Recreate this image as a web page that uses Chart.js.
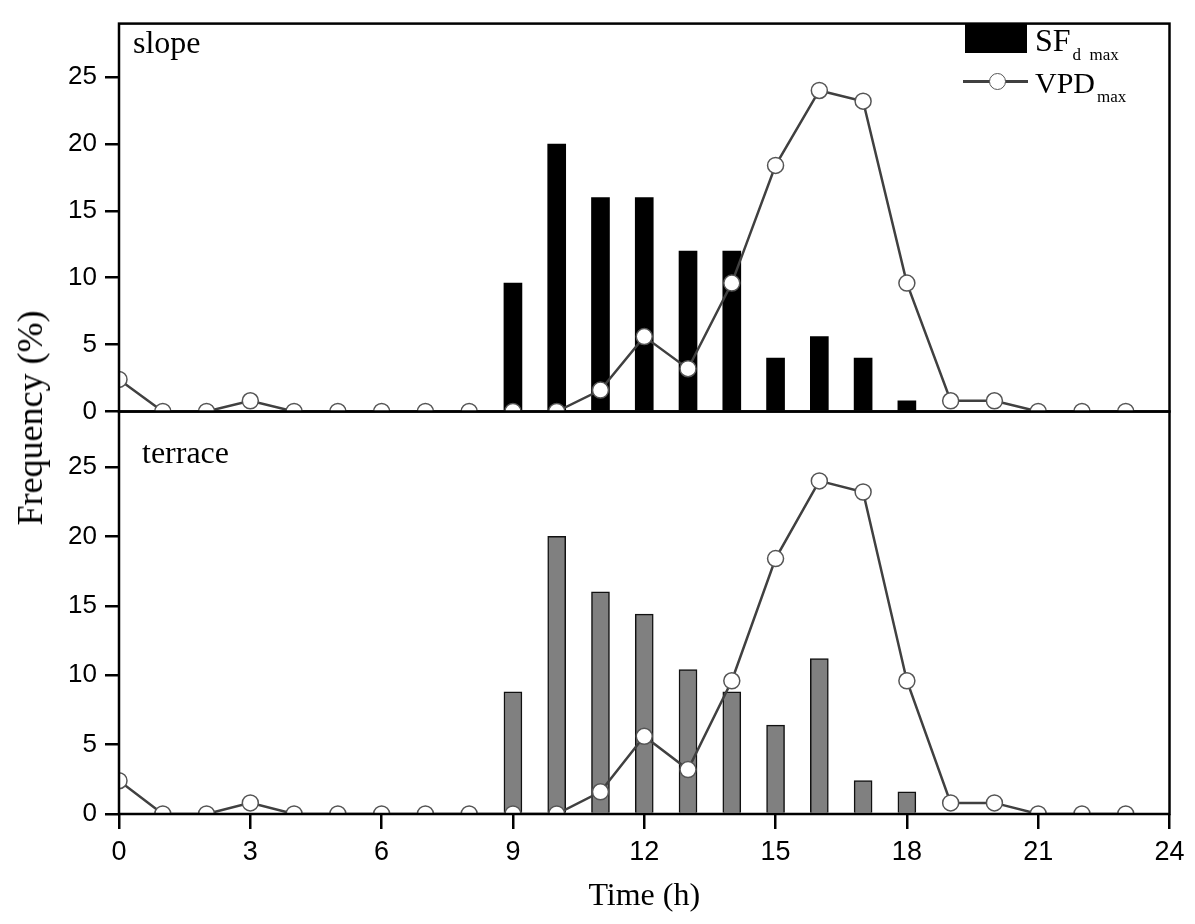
<!DOCTYPE html>
<html>
<head>
<meta charset="utf-8">
<script src="https://cdn.jsdelivr.net/npm/chart.js@4.4.1/dist/chart.umd.min.js"></script>
<style>
  html, body { margin: 0; padding: 0; background: #fff; }
  #wrap { position: relative; width: 1195px; height: 924px; overflow: hidden; }
  #wrap canvas { position: absolute; left: 0; top: 0; }
  .serif { position: absolute; font-family: 'Liberation Serif', 'Times New Roman', serif; color: #000; white-space: nowrap; line-height: 1; }
  #ytitle { left: 30px; top: 418px; font-size: 36px; transform: translate(-50%, -50%) rotate(-90deg); }
  #slope { left: 133px; top: 26px; font-size: 32px; }
  #terrace { left: 142px; top: 436px; font-size: 32px; }
  #legBox { position: absolute; left: 965px; top: 23px; width: 62px; height: 30px; background: #000; }
  #legLine { position: absolute; left: 963px; top: 80px; width: 65px; height: 2.5px; background: #404040; }
  #legDot { position: absolute; left: 989px; top: 73px; width: 15px; height: 15px; border-radius: 50%; background: #fff; border: 1.5px solid #555; }
  .sub { font-size: 17px; position: relative; top: 9px; margin-left: 2px; }
  #legSF { left: 1035px; top: 24px; font-size: 32px; }
  #legVPD { left: 1035px; top: 68px; font-size: 30px; }
</style>
</head>
<body>
<div id="wrap">
  <canvas id="bottomChart" width="1195" height="924"></canvas>
  <canvas id="topChart" width="1195" height="924"></canvas>
  <div id="ytitle" class="serif">Frequency (%)</div>
  <div id="slope" class="serif">slope</div>
  <div id="terrace" class="serif">terrace</div>
  <div id="legBox"></div>
  <div id="legSF" class="serif">SF<span class="sub">d&nbsp;&nbsp;max</span></div>
  <div id="legLine"></div>
  <div id="legDot"></div>
  <div id="legVPD" class="serif">VPD<span class="sub">max</span></div>
</div>
<script>
// hour of day
const hours = [0, 1, 2, 3, 4, 5, 6, 7, 8, 9, 10, 11, 12, 13, 14, 15, 16, 17, 18, 19, 20, 21, 22, 23];
// VPD max frequency (%), same in both panels
const vpdMax = [2.4, 0, 0, 0.8, 0, 0, 0, 0, 0, 0, 0, 1.6, 5.6, 3.2, 9.6, 18.4, 24, 23.2, 9.6, 0.8, 0.8, 0, 0, 0];
// hours with SFd max bars
const barHours = [9, 10, 11, 12, 13, 14, 15, 16, 17, 18];
const sfSlope = [9.6, 20, 16, 16, 12, 12, 4, 5.6, 4, 0.8];
const sfTerrace = [8.8, 20, 16, 14.4, 10.4, 8.8, 6.4, 11.2, 2.4, 1.6];
const xTicks = [0, 3, 6, 9, 12, 15, 18, 21, 24];

const frame = {
    id: 'frame',
    afterDatasetsDraw(chart) {
        const a = chart.chartArea, c = chart.ctx;
        c.save();
        c.strokeStyle = '#000';
        c.lineWidth = 2.5;
        c.strokeRect(a.left, a.top, a.right - a.left, a.bottom - a.top);
        c.restore();
    }
};

function datasets(barValues, fill, border, bw) {
    return [
        {
            type: 'line',
            data: hours.map((h, i) => ({ x: h, y: vpdMax[i] })),
            borderColor: '#404040',
            borderWidth: 2.5,
            pointRadius: 8,
            pointBackgroundColor: '#fff',
            pointBorderColor: '#555',
            pointBorderWidth: 1.5,
            tension: 0,
            order: 0
        },
        {
            type: 'bar',
            data: barHours.map((h, i) => ({ x: h, y: barValues[i] })),
            backgroundColor: fill,
            borderColor: border,
            borderWidth: bw,
            borderSkipped: 'bottom',
            barThickness: 18,
            order: 1
        }
    ];
}

function yScale() {
    return {
        min: 0, max: 29,
        border: { display: false },
        grid: { drawOnChartArea: false, drawTicks: true, tickLength: 14, color: '#000', lineWidth: 2.5 },
        ticks: {
            stepSize: 5, includeBounds: false, padding: 8, color: '#000',
            font: { family: "'Liberation Sans', Arial, sans-serif", size: 26 }
        },
        afterFit: s => { s.width = 119; }
    };
}

new Chart(document.getElementById('topChart'), {
    type: 'bar',
    data: { datasets: datasets(sfSlope, '#000', '#000', 0) },
    options: {
        responsive: false,
        animation: false,
        layout: { padding: { top: 9, right: 25.5, bottom: 512.5, left: 0 } },
        plugins: { legend: { display: false }, tooltip: { enabled: false } },
        scales: {
            x: { type: 'linear', min: 0, max: 24, offset: false, display: false },
            y: yScale()
        }
    },
    plugins: [frame]
});

new Chart(document.getElementById('bottomChart'), {
    type: 'bar',
    data: { datasets: datasets(sfTerrace, '#808080', '#111', 1.5) },
    options: {
        responsive: false,
        animation: false,
        layout: { padding: { top: 411.5, right: 25.5, bottom: 0, left: 0 } },
        plugins: { legend: { display: false }, tooltip: { enabled: false } },
        scales: {
            x: {
                type: 'linear', min: 0, max: 24, offset: false,
                border: { display: false },
                grid: { offset: false, drawOnChartArea: false, drawTicks: true, tickLength: 15, color: '#000', lineWidth: 2.5 },
                afterBuildTicks: s => { s.ticks = xTicks.map(v => ({ value: v })); },
                ticks: {
                    padding: 7, color: '#000', maxRotation: 0,
                    font: { family: "'Liberation Sans', Arial, sans-serif", size: 27 }
                },
                title: {
                    display: true, text: 'Time (h)', color: '#000',
                    font: { family: "'Liberation Serif', 'Times New Roman', serif", size: 32 },
                    padding: { top: 0, bottom: 8 }
                },
                afterFit: s => { s.height = 110; }
            },
            y: yScale()
        }
    },
    plugins: [frame]
});
</script>
</body>
</html>
